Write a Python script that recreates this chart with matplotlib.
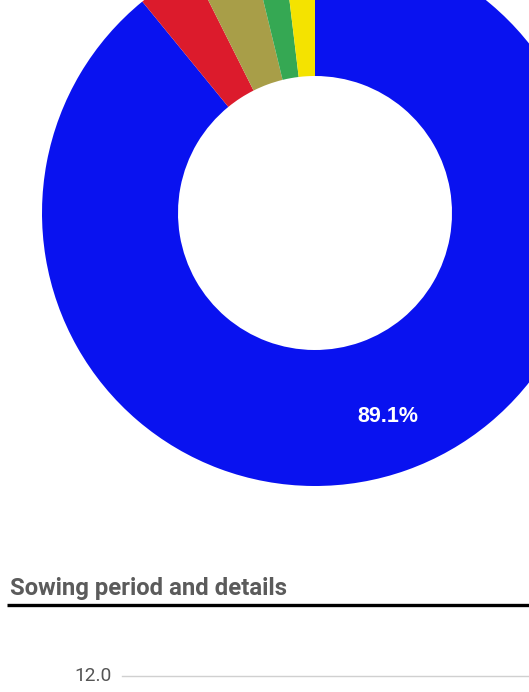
import matplotlib
matplotlib.use('Agg')
import matplotlib.pyplot as plt

# Доли посева по культурам (по часовой стрелке от 12 часов)
shares = [89.1, 3.5, 3.6, 1.9, 1.9]
colors = ['#0912f0', '#dc1b2c', '#a89e48', '#35a853', '#f4e300']

section_title = 'Sowing period and details'
y_tick_label = '12.0'

W, H = 529, 692
fig = plt.figure(figsize=(W / 100, H / 100), dpi=100)
ax = fig.add_axes([0, 0, 1, 1])

outer_r = 273
inner_r = 137
wedges, texts, autotexts = ax.pie(
    shares,
    colors=colors,
    startangle=90,
    counterclock=False,
    radius=outer_r,
    center=(315, H - 213),
    frame=True,
    wedgeprops=dict(width=outer_r - inner_r, linewidth=0),
    autopct=lambda p: f'{p:.1f}%' if p > 50 else '',
    pctdistance=0.79,
)
for t in autotexts:
    t.set_color('white')
    t.set_fontsize(15.5)
    t.set_fontweight('bold')
    t.set_family('Liberation Sans')

ax.set_aspect('auto')
ax.set_xlim(0, W)
ax.set_ylim(0, H)
ax.axis('off')

# Заголовок следующего блока
fig.text(10 / W, 1 - 588 / H, section_title, fontsize=17.2, fontweight='bold',
         color='#5b5b5b', family='Roboto', va='center', ha='left')
ax.plot([7, W], [H - 605, H - 605], color='black', linewidth=2.4, solid_capstyle='butt')

# Начало графика ниже
ax.plot([122, W], [H - 676, H - 676], color='#d0d0d0', linewidth=1)
fig.text(112 / W, 1 - 676 / H, y_tick_label, fontsize=13.8, color='#555555',
         family='Roboto', va='center', ha='right')

fig.savefig('out.png', dpi=100)
